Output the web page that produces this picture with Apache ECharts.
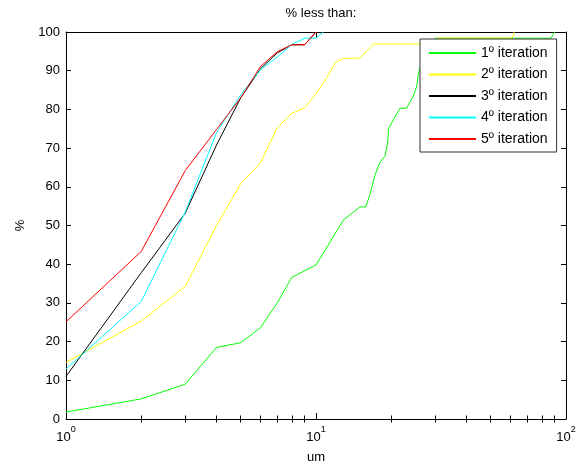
<!DOCTYPE html>
<html>
<head>
<meta charset="utf-8">
<script src="https://cdn.jsdelivr.net/npm/echarts@6/dist/echarts.min.js"></script>
<style>
  html, body { margin: 0; padding: 0; background: #fff; }
  #chart { width: 588px; height: 469px; }
</style>
</head>
<body>
<div id="chart"></div>
<script>
// Cumulative size distribution for five iterations (% less than a given size, um)
const seriesNames = ['1º iteration', '2º iteration', '3º iteration', '4º iteration', '5º iteration'];
const seriesColors = ['#00ff00', '#ffff00', '#000000', '#00ffff', '#ff0000'];

const iter1X = [1, 2, 3, 4, 5, 6, 7, 8, 10, 12.9, 15, 15.8, 16.4, 17.2, 18, 18.9, 19.35, 19.5, 20.4, 21.7, 23, 24.5, 25.3, 25.7, 27, 30, 87, 90];
const iter1Y = [1.8, 5.2, 9, 18.5, 19.7, 23.6, 30, 36.6, 39.8, 51.5, 54.8, 54.8, 57.8, 62.9, 66.3, 68, 71.5, 74.9, 77.4, 80.3, 80.3, 83.4, 86, 89.4, 94, 98.4, 98.4, 100];

const iter2X = [1, 2, 3, 4, 5, 6, 7, 8, 9, 10, 11, 12, 13, 14, 15, 16, 17, 28, 31, 61, 62];
const iter2Y = [14.6, 25.3, 34.3, 50, 60.8, 66.2, 75.3, 79, 80.4, 84, 88, 92.2, 93.2, 93.2, 93.3, 95.2, 96.9, 96.9, 98.4, 98.4, 100];

const iter3X = [1, 2, 3, 4, 5, 6, 7, 8, 9, 10];
const iter3Y = [11, 37.8, 53.2, 70.8, 83, 90.5, 94.6, 96.7, 96.7, 100];

const iter4X = [1, 2, 3, 4, 5, 6, 7, 8, 9, 10, 10.7];
const iter4Y = [12.9, 30.4, 53.5, 74, 83.8, 90.3, 93.5, 96.8, 98.4, 98.4, 100];

const iter5X = [1, 2, 3, 4, 5, 6, 7, 8, 9, 10];
const iter5Y = [25.1, 43.3, 64.2, 74.8, 83, 91.1, 94.9, 96.7, 96.7, 100];

const xMajorTicks = [1, 10, 100];
const xMinorTicks = [2, 3, 4, 5, 6, 7, 8, 9, 20, 30, 40, 50, 60, 70, 80, 90];

const FONT = 'Liberation Sans, Arial, Helvetica, sans-serif';

const pairs = (xs, ys) => xs.map((x, i) => [x, ys[i]]);
const allX = [iter1X, iter2X, iter3X, iter4X, iter5X];
const allY = [iter1Y, iter2Y, iter3Y, iter4Y, iter5Y];

const chart = echarts.init(document.getElementById('chart'), null, { renderer: 'canvas' });

const logBase = {
  type: 'log', logBase: 10, min: 1, max: 100, gridIndex: 0, z: 3,
  splitLine: { show: false },
  minorTick: { show: false },
  minorSplitLine: { show: false }
};

const blackLine = { show: true, onZero: false, lineStyle: { color: '#000', width: 1 } };

const option = {
  animation: false,
  backgroundColor: '#fff',
  textStyle: { fontFamily: FONT },
  title: {
    text: '% less than:',
    left: 316,
    top: 2,
    textAlign: 'center',
    textStyle: { fontSize: 13, fontWeight: 'normal', color: '#000', fontFamily: FONT }
  },
  grid: { left: 66, right: 22, top: 32, bottom: 47, containLabel: false },
  legend: {
    orient: 'vertical',
    left: 420,
    top: 39,
    padding: [6, 9, 5, 9],
    icon: 'rect',
    itemWidth: 47,
    itemHeight: 2,
    itemGap: 5.5,
    backgroundColor: '#fff',
    borderColor: '#333',
    borderWidth: 1,
    borderRadius: 0,
    data: seriesNames,
    itemStyle: { borderWidth: 0 },
    textStyle: { fontSize: 14, lineHeight: 16, color: '#000', fontFamily: FONT }
  },
  xAxis: [
    Object.assign({}, logBase, {
      position: 'bottom',
      axisLine: blackLine,
      axisTick: { show: true, inside: true, length: 6, customValues: xMajorTicks, lineStyle: { color: '#000' } },
      axisLabel: {
        show: true, customValues: xMajorTicks, margin: 6, color: '#000',
        formatter: v => '{b|10}{s|' + Math.round(Math.log10(v)) + '}',
        rich: {
          b: { fontSize: 13, lineHeight: 19, verticalAlign: 'bottom', color: '#000', fontFamily: FONT },
          s: { fontSize: 9, lineHeight: 19, verticalAlign: 'top', color: '#000', fontFamily: FONT }
        }
      },
      name: 'um', nameLocation: 'middle', nameGap: 32,
      nameTextStyle: { fontSize: 13, color: '#000', fontFamily: FONT }
    }),
    Object.assign({}, logBase, {
      position: 'bottom',
      axisLine: { show: false },
      axisTick: { show: true, inside: true, length: 3.5, customValues: xMinorTicks, lineStyle: { color: '#000' } },
      axisLabel: { show: false }
    }),
    Object.assign({}, logBase, {
      position: 'top',
      axisLine: blackLine,
      axisTick: { show: true, inside: true, length: 6, customValues: xMajorTicks, lineStyle: { color: '#000' } },
      axisLabel: { show: false }
    }),
    Object.assign({}, logBase, {
      position: 'top',
      axisLine: { show: false },
      axisTick: { show: true, inside: true, length: 3.5, customValues: xMinorTicks, lineStyle: { color: '#000' } },
      axisLabel: { show: false }
    })
  ],
  yAxis: [
    {
      type: 'value', min: 0, max: 100, interval: 10, position: 'left', z: 3,
      axisLine: blackLine,
      axisTick: { show: true, inside: true, length: 5, lineStyle: { color: '#000' } },
      axisLabel: { fontSize: 13, color: '#000', margin: 6, fontFamily: FONT },
      splitLine: { show: false },
      name: '%', nameLocation: 'middle', nameGap: 39, nameRotate: 90,
      nameTextStyle: { fontSize: 13, color: '#000', fontFamily: FONT }
    },
    {
      type: 'value', min: 0, max: 100, interval: 10, position: 'right', z: 3,
      axisLine: blackLine,
      axisTick: { show: true, inside: true, length: 5, lineStyle: { color: '#000' } },
      axisLabel: { show: false },
      splitLine: { show: false }
    }
  ],
  series: seriesNames.map((name, i) => ({
    name: name,
    type: 'line',
    xAxisIndex: 0,
    yAxisIndex: 0,
    symbol: 'none',
    showSymbol: false,
    smooth: false,
    color: seriesColors[i],
    itemStyle: { color: seriesColors[i] },
    lineStyle: { color: seriesColors[i], width: 1 },
    data: pairs(allX[i], allY[i])
  }))
};

chart.setOption(option);
</script>
</body>
</html>
